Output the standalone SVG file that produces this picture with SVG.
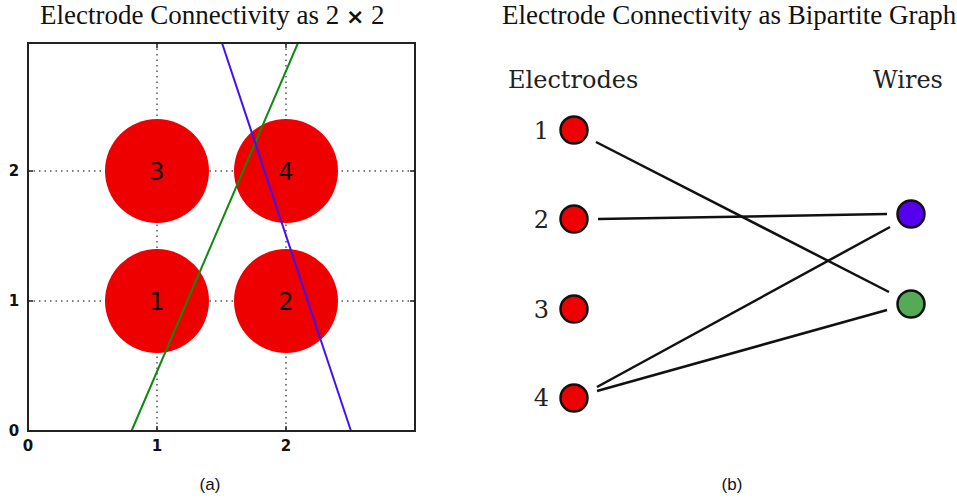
<svg xmlns="http://www.w3.org/2000/svg" width="957" height="499" viewBox="0 0 957 499">
<style>
.title{font-family:"Liberation Serif",serif;font-size:27px;fill:#111}
.tick{font-family:"DejaVu Sans",sans-serif;font-size:15px;font-weight:bold;fill:#111;text-anchor:middle}
.cap{font-family:"Liberation Sans",sans-serif;font-size:17px;fill:#111;text-anchor:middle}
.grid{stroke:#555;stroke-width:1.5;stroke-dasharray:1.5 4}
.tk{stroke:#222;stroke-width:1.5}
.blob{fill:#ee0000}
.blabel{font-family:"DejaVu Sans",sans-serif;font-size:24px;fill:#111;text-anchor:middle}
.hdr{font-family:"DejaVu Serif",serif;font-size:24px;fill:#222}
.num{font-family:"DejaVu Serif",serif;font-size:24px;fill:#222;text-anchor:end}
.node{stroke:#111;stroke-width:2.5}
.edge{stroke:#111;stroke-width:2.5;fill:none}
</style>
<rect width="957" height="499" fill="#fff"/>
<text class="title" x="40" y="24">Electrode Connectivity as 2 <tspan font-family="DejaVu Sans, sans-serif" font-weight="bold" font-size="22">×</tspan> 2</text>
<text class="title" x="502" y="24">Electrode Connectivity as Bipartite Graph</text>

<g id="plot-a">
<line class="grid" x1="157" y1="43" x2="157" y2="431"/>
<line class="grid" x1="286" y1="43" x2="286" y2="431"/>
<line class="grid" x1="28" y1="171" x2="415" y2="171"/>
<line class="grid" x1="28" y1="301" x2="415" y2="301"/>
<g id="e3"><circle class="blob" cx="157" cy="171" r="52"/><text class="blabel" x="157" y="180">3</text></g>
<g id="e4"><circle class="blob" cx="286" cy="171" r="52"/><text class="blabel" x="286" y="180">4</text></g>
<g id="e1"><circle class="blob" cx="157" cy="301" r="52"/><text class="blabel" x="157" y="310">1</text></g>
<g id="e2"><circle class="blob" cx="286" cy="301" r="52"/><text class="blabel" x="286" y="310">2</text></g>
<line x1="131.5" y1="431" x2="298" y2="43" stroke="#118811" stroke-width="2"/>
<line x1="222" y1="43" x2="351" y2="431" stroke="#4411ee" stroke-width="2"/>
<rect x="28" y="43" width="387" height="388" fill="none" stroke="#222" stroke-width="2"/>
<path class="tk" d="M157 431v-5M286 431v-5M157 43v5M286 43v5M28 171h5M28 301h5M415 171h-5M415 301h-5"/>
<text class="tick" x="14" y="436">0</text>
<text class="tick" x="14" y="306">1</text>
<text class="tick" x="14" y="176">2</text>
<text class="tick" x="28" y="451">0</text>
<text class="tick" x="157" y="451">1</text>
<text class="tick" x="286" y="451">2</text>
</g>
<text class="cap" x="210" y="490">(a)</text>
<text class="cap" x="732" y="490">(b)</text>

<text class="hdr" x="508" y="88">Electrodes</text>
<text class="hdr" x="873" y="88">Wires</text>

<g id="connectors">
<line class="edge" x1="596" y1="142" x2="889" y2="292"/>
<line class="edge" x1="598" y1="219" x2="887" y2="214"/>
<line class="edge" x1="597" y1="387" x2="890" y2="227"/>
<line class="edge" x1="597" y1="391" x2="887" y2="310"/>
</g>

<g id="n1"><text class="num" x="549" y="139">1</text><circle class="node" cx="574" cy="130" r="13.5" fill="#ee0000"/></g>
<g id="n2"><text class="num" x="549" y="228">2</text><circle class="node" cx="574" cy="219" r="13.5" fill="#ee0000"/></g>
<g id="n3"><text class="num" x="549" y="318">3</text><circle class="node" cx="574" cy="309" r="13.5" fill="#ee0000"/></g>
<g id="n4"><text class="num" x="549" y="406">4</text><circle class="node" cx="574" cy="398" r="13.5" fill="#ee0000"/></g>
<g id="w-blue"><circle class="node" cx="911" cy="214" r="13.5" fill="#5500ee"/></g>
<g id="w-green"><circle class="node" cx="911" cy="304" r="13.5" fill="#55aa55"/></g>
</svg>
